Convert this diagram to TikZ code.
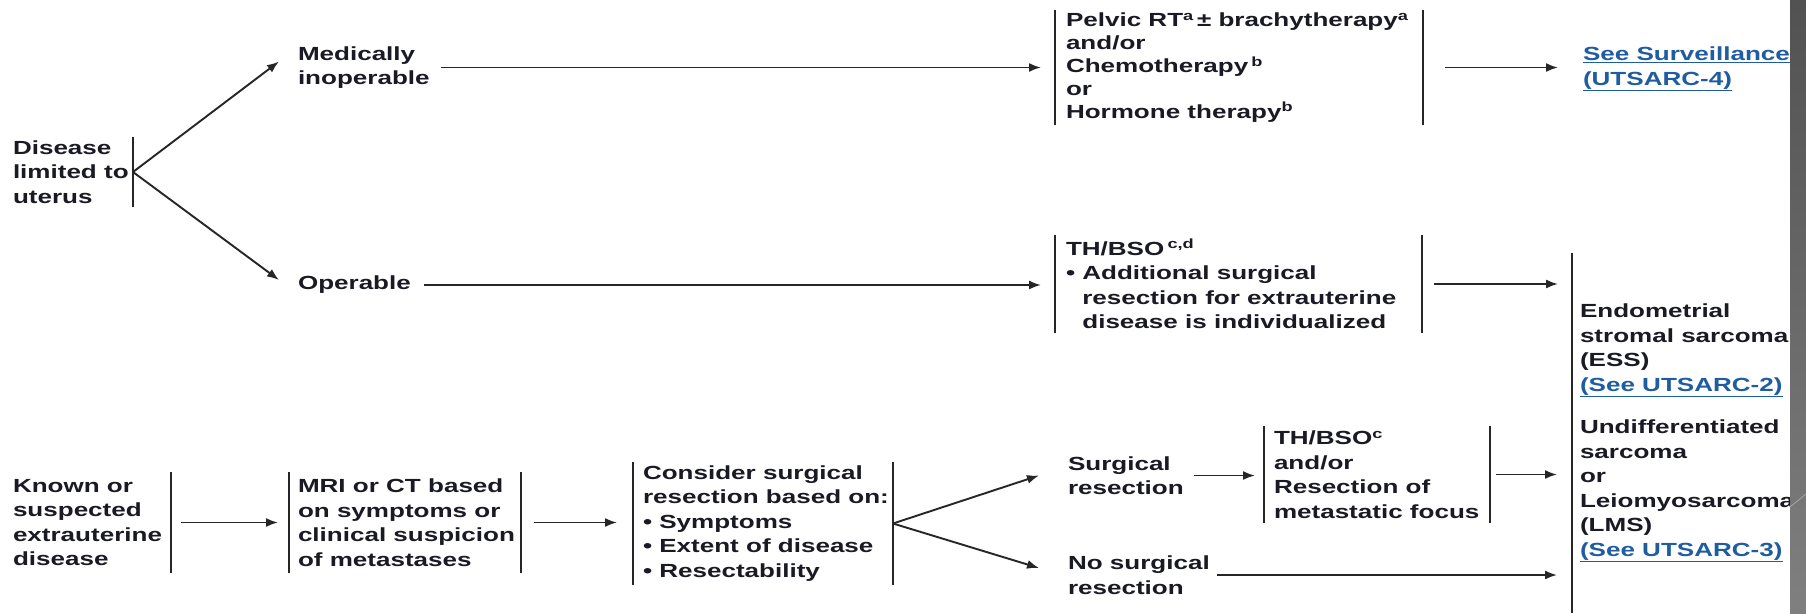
\documentclass[tikz,border=0pt]{standalone}
\usepackage{fontspec}
\setmainfont{Liberation Sans}[FakeStretch=1.37]
\usetikzlibrary{arrows.meta,calc}
\definecolor{ink}{HTML}{1A1A24}
\definecolor{lnkc}{HTML}{1F5CA0}
\definecolor{linec}{HTML}{262626}
\newcommand\lnk[1]{\textcolor{lnkc}{\underline{#1}}}
\newcommand\bul{\textbullet\ }
\newcommand\bulsp{\hphantom{\textbullet\ }}
\begin{document}
\begin{tikzpicture}[x=1pt,y=-1pt,
  txt/.style={font=\bfseries\fontsize{19}{24.5}\selectfont, text=ink, inner sep=0pt, outer sep=0pt, align=left, anchor=west},
  tight/.style={font=\bfseries\fontsize{19}{22.8}\selectfont},
  bar/.style={draw=linec, line width=1.9pt},
  arr/.style={draw=linec, line width=1.9pt, -{Latex[length=12pt,width=9pt]}},
  frame/.style={inner sep=0pt, outer sep=0pt, draw=none},
  lbar/.style={frame, append after command={\pgfextra{\let\bx\tikzlastnode}
      (\bx.north west) edge[bar] (\bx.south west)}},
  rbar/.style={frame, append after command={\pgfextra{\let\bx\tikzlastnode}
      (\bx.north east) edge[bar] (\bx.south east)}},
  lrbar/.style={frame, append after command={\pgfextra{\let\bx\tikzlastnode}
      (\bx.north west) edge[bar] (\bx.south west)
      (\bx.north east) edge[bar] (\bx.south east)}}
]
\fill[white] (0,0) rectangle (1806,613);
\useasboundingbox (0,0) rectangle (1806,613);

% frames
\node[rbar, minimum width=120pt, minimum height=70pt] (dis) at (73,172) {};
\node[lrbar, minimum width=368pt, minimum height=115pt] (t1) at (1239,67.5) {};
\node[lrbar, minimum width=367pt, minimum height=98pt] (t2) at (1238.5,284) {};
\node[lbar, minimum width=218pt, minimum height=360pt] (big) at (1681,433) {};
\node[rbar, minimum width=158pt, minimum height=101pt] (known) at (92,522.5) {};
\node[lrbar, minimum width=232pt, minimum height=101pt] (mri) at (405,522.5) {};
\node[lrbar, minimum width=260pt, minimum height=123pt] (cons) at (763,523.5) {};
\node[lrbar, minimum width=226pt, minimum height=97pt] (th3) at (1377,474.5) {};

% texts
\node[txt] (distxt) at (dis.west) {Disease\\limited to\\uterus};
\node[txt] (med) at (298,67.5) {Medically\\inoperable};
\node[txt] (op) at (298,285) {Operable};
\node[txt, tight] (t1txt) at ([xshift=11pt]t1.west) {Pelvic RT\textsuperscript{a}\,\textpm\ brachytherapy\textsuperscript{a}\\and/or\\Chemotherapy\,\textsuperscript{b}\\or\\Hormone therapy\textsuperscript{b}};
\node[txt] (t2txt) at ([xshift=11pt]t2.west) {TH/BSO\,\textsuperscript{c,d}\\\bul Additional surgical\\\bulsp resection for extrauterine\\\bulsp disease is individualized};
\node[txt] (surv) at (1583,69) {\lnk{See Surveillance}\\\lnk{(UTSARC-4)}};
\node[txt] (ess) at (1580,350.5) {Endometrial\\stromal sarcoma\\(ESS)\\\lnk{(See UTSARC-2)}};
\node[txt] (lms) at (1580,491) {Undifferentiated\\sarcoma\\or\\Leiomyosarcoma\\(LMS)\\\lnk{(See UTSARC-3)}};
\node[txt] (knowntxt) at (known.west) {Known or\\suspected\\extrauterine\\disease};
\node[txt] (mritxt) at ([xshift=9pt]mri.west) {MRI or CT based\\on symptoms or\\clinical suspicion\\of metastases};
\node[txt] (constxt) at ([xshift=10pt]cons.west) {Consider surgical\\resection based on:\\\bul Symptoms\\\bul Extent of disease\\\bul Resectability};
\node[txt] (sr) at (1068,475.5) {Surgical\\resection};
\node[txt] (th3txt) at ([xshift=10pt]th3.west) {TH/BSO\textsuperscript{c}\\and/or\\Resection of\\metastatic focus};
\node[txt] (nsr) at (1068,575) {No surgical\\resection};

% connectors
\draw[arr] (dis.east) -- ([xshift=-19pt,yshift=6pt]med.west);
\draw[arr] (dis.east) -- ([xshift=-19pt,yshift=5pt]op.west);
\draw[arr, shorten <=11pt, shorten >=14pt] (med.east) -- (t1.west |- med.east);
\draw[arr, shorten <=13pt, shorten >=14pt] (op.east) -- (t2.west |- op.east);
\draw[arr, shorten <=22pt, shorten >=25pt] (t1.east) -- (surv.west |- t1.east);
\draw[arr, shorten <=12pt, shorten >=14pt] (t2.east) -- (big.west |- t2.east);
\draw[arr, shorten <=10pt, shorten >=11pt] (known.east) -- (mri.west);
\draw[arr, shorten <=13pt, shorten >=16pt] (mri.east) -- (cons.west |- mri.east);
\draw[arr] (cons.east) -- ([xshift=-29pt]sr.west);
\draw[arr] (cons.east) -- ([xshift=-29pt,yshift=7pt]nsr.west);
\draw[arr, shorten <=10pt, shorten >=9pt] (sr.east) -- (th3.west |- sr.east);
\draw[arr, shorten <=6pt, shorten >=15pt] (th3.east) -- (big.west |- th3.east);
\draw[arr, shorten <=7pt, shorten >=15pt] (nsr.east) -- (big.west |- nsr.east);

% slide edge
\shade[top color=black!68, bottom color=black!50] (1790,0) rectangle (1806,613);
\draw[black!30, line width=0.6pt] (1790,507) -- (1806,494);
\end{tikzpicture}
\end{document}
